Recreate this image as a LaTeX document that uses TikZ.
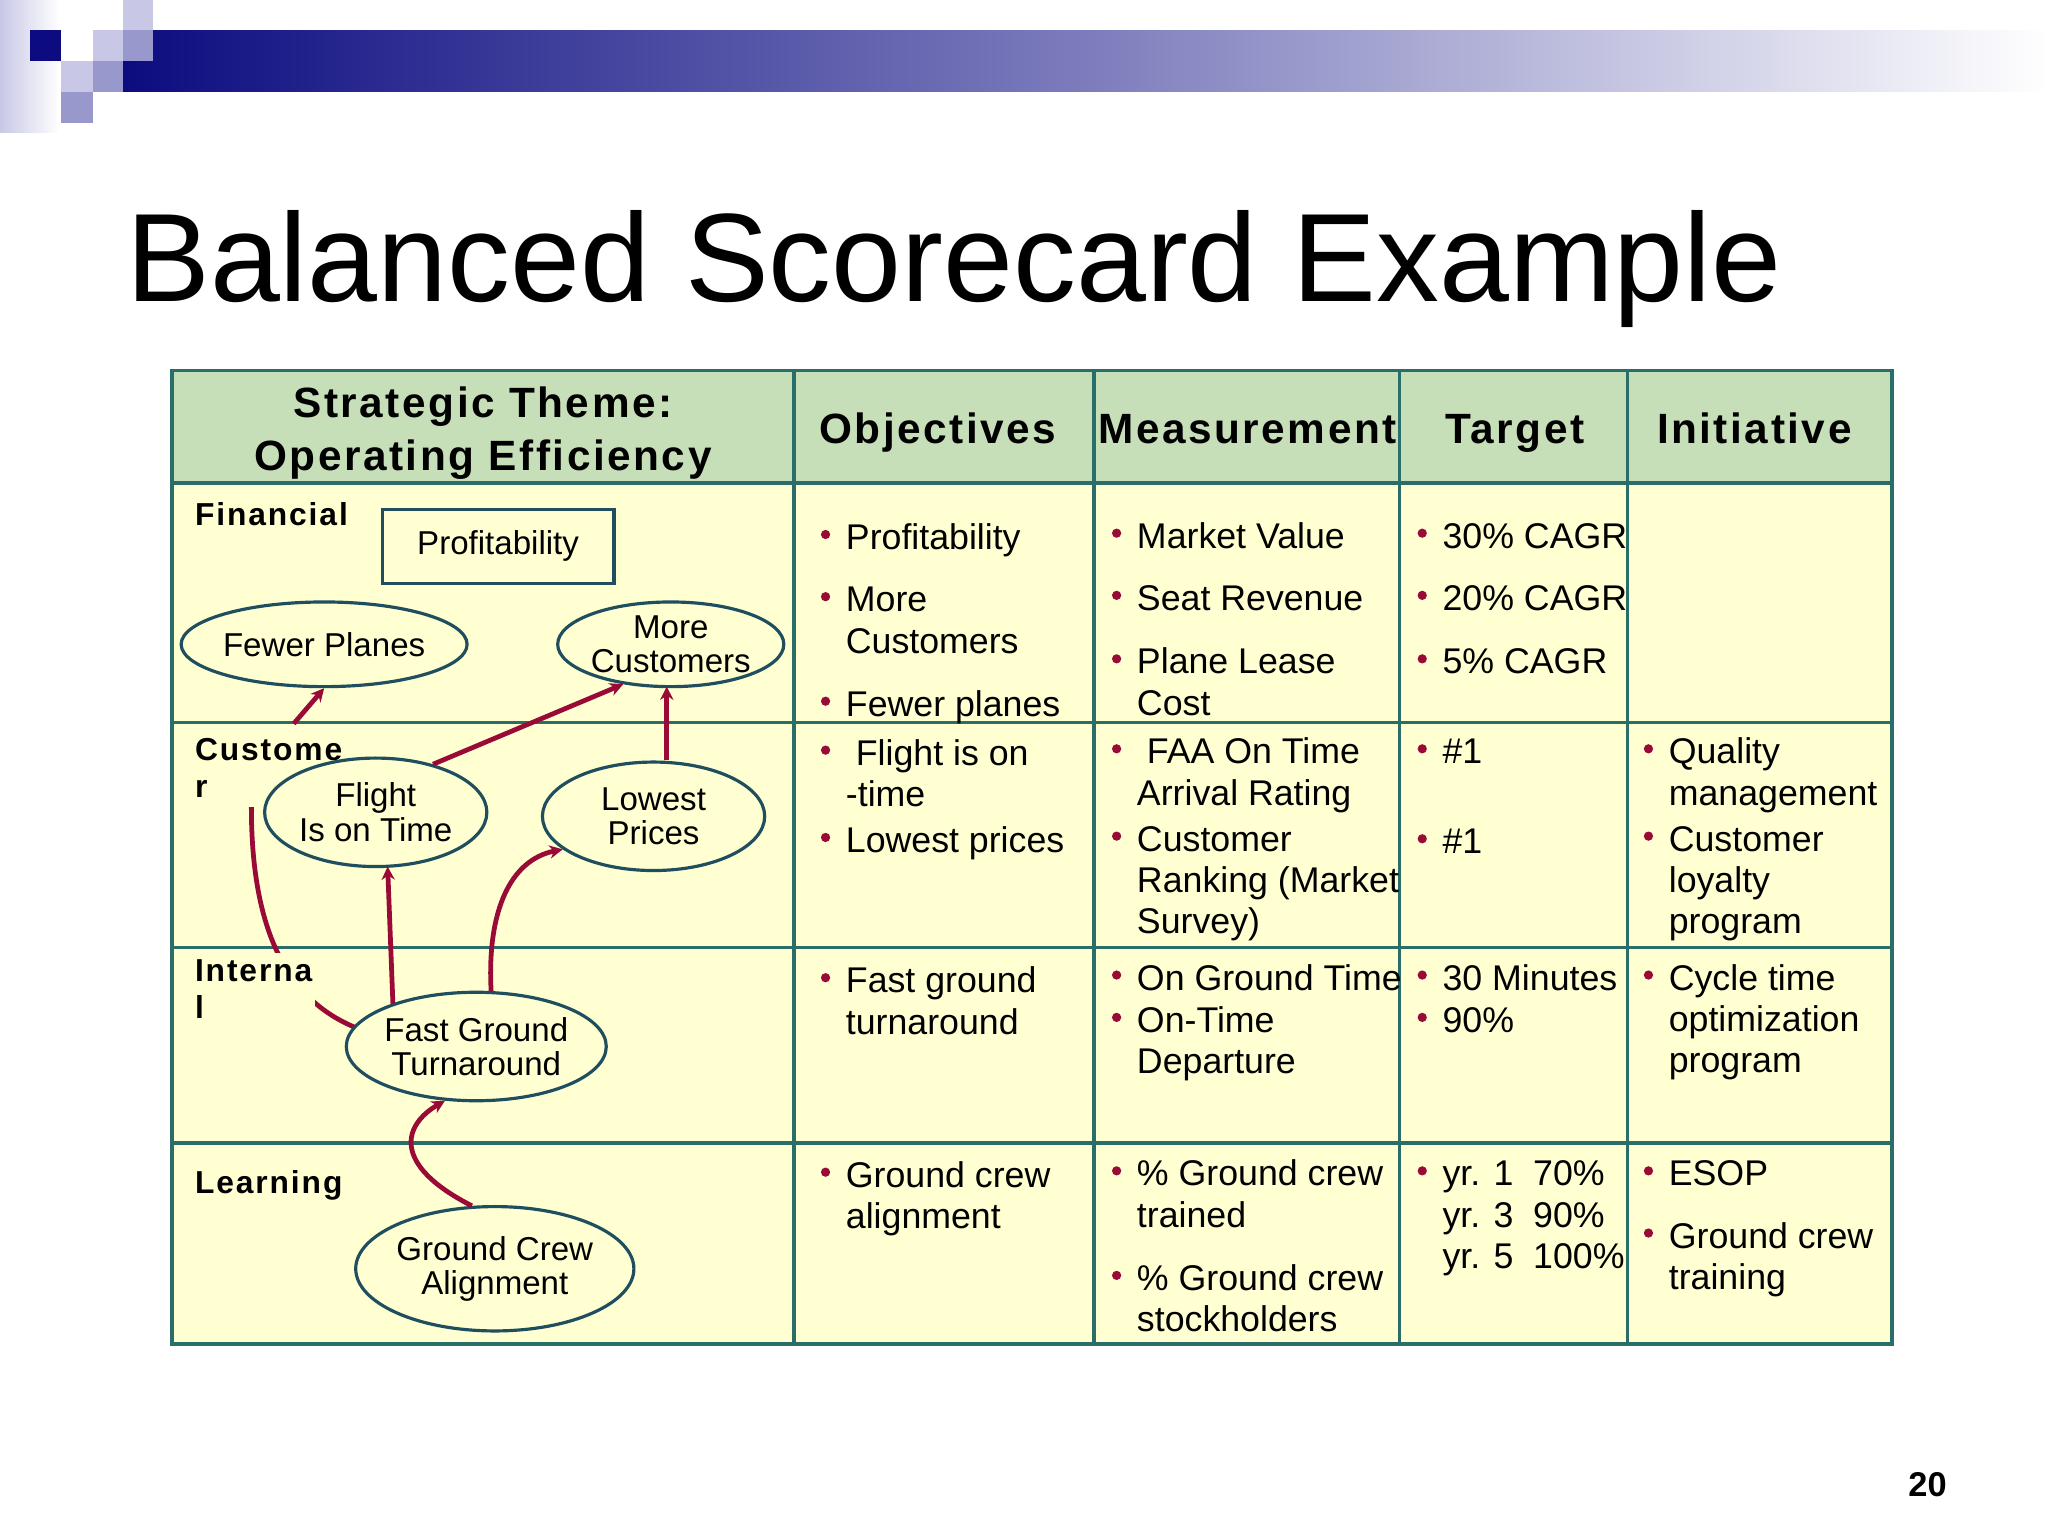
\documentclass[tikz,border=0pt]{standalone}
\usepackage{fontspec}
\setmainfont{Liberation Sans}
\usetikzlibrary{shapes.geometric,arrows.meta}
\definecolor{navy}{HTML}{0C0C80}
\definecolor{lav}{HTML}{C8C8E6}
\definecolor{lavm}{HTML}{9898CC}
\definecolor{hdr}{HTML}{C6DFB8}
\definecolor{body}{HTML}{FFFFD2}
\definecolor{grid}{HTML}{2A6E6A}
\definecolor{ell}{HTML}{1F4E5F}
\definecolor{arr}{HTML}{9A0A36}
\tikzset{
  x=0.5pt,y=-0.5pt,
  txt/.style={anchor=north west,inner sep=0pt,align=left,font=\fontsize{13.5}{15.6}\selectfont},
  hd/.style={anchor=base,inner sep=0pt,align=center,font=\fontsize{16}{20}\selectfont\bfseries\addfontfeatures{LetterSpace=6}},
  rl/.style={anchor=north west,inner sep=1pt,align=left,fill=body,font=\fontsize{12}{14}\selectfont\bfseries\addfontfeatures{LetterSpace=6}},
  el/.style={ellipse,draw=ell,line width=1.2pt,fill=body,inner sep=0pt,align=center,font=\fontsize{12.5}{13}\selectfont},
  ar/.style={draw=arr,line width=1.8pt,-{Stealth[length=5pt,width=5pt]}},
  ln/.style={draw=arr,line width=1.8pt}
}
\newcommand{\bul}[4]{\fill[arr] (#1-15,#2-11) circle (3.5);\node[txt] (#4) at (#1,#2-21.8) {\strut#3};}
\begin{document}
\begin{tikzpicture}
\useasboundingbox (0,0) rectangle (1548,1161);
\fill[white] (0,0) rectangle (1548,1161);
% banner
\shade[left color=lav,right color=white] (0,0) rectangle (45,100);
\shade[left color=navy,right color=white,middle color=lavm!80!navy] (93,23) rectangle (1548,69.5);
\fill[navy] (23,23) rectangle (46,46);
\fill[lav] (93,0) rectangle (116,23);
\fill[lav] (70,23) rectangle (93,46);
\fill[lavm] (93,23) rectangle (116,46);
\fill[lav] (46,46) rectangle (70,69.5);
\fill[lavm] (70,46) rectangle (93,69.5);
\fill[lavm] (46,69.5) rectangle (70,93);
\node[anchor=base west,inner sep=0pt,font=\fontsize{47.5}{55}\selectfont] (title) at (95,228) {Balanced Scorecard Example};
% table
\fill[hdr] (130,280) rectangle (1430,365);
\fill[body] (130,365) rectangle (1430,1016);
\begin{scope}[draw=grid,line width=1.3pt]
\draw (130,280) rectangle (1430,1016);
\foreach \y in {365,546,716,864} \draw (130,\y) -- (1430,\y);
\foreach \x in {600,827,1058,1230} \draw (\x,280) -- (\x,1016);
\end{scope}
\node[hd,anchor=north] (h1) at (365,287) {\strut Strategic Theme:\\Operating Efficiency};
\node[hd] (h2) at (709,335) {Objectives};
\node[hd] (h3) at (943,335) {Measurement};
\node[hd] (h4) at (1145,335) {Target};
\node[hd] (h5) at (1326,335) {Initiative};
% map arrows
\draw[ln] (278,780) .. controls (215,760) and (190,700) .. (190,610);
% row labels
\node[rl] (r1) at (145,375) {\strut Financial};
\node[rl] (r2) at (145,553) {\strut Custome\\r};
\node[rl] (r3) at (145,720) {\strut Interna\\l};
\node[rl] (r4) at (145,880) {\strut Learning};
% map nodes
\node[draw=ell,line width=1.3pt,fill=body,minimum width=87.5pt,minimum height=28pt,font=\fontsize{12.5}{13}\selectfont] (prof) at (376.5,413) {Profitability};
\node[el,minimum width=84pt,minimum height=32pt] (fp) at (245,487) {Fewer Planes};
\node[el,minimum width=84pt,minimum height=32pt] (mc) at (507,487) {More\\Customers};
\node[el,minimum width=84pt,minimum height=41pt] (fl) at (284,614) {Flight\\Is on Time};
\node[el,minimum width=84pt,minimum height=41pt] (lp) at (494,617) {Lowest\\Prices};
\node[el,minimum width=84pt,minimum height=41pt] (fg) at (360,791) {Fast Ground\\Turnaround};
\node[el,minimum width=99pt,minimum height=47pt] (gc) at (374,959) {Ground Crew\\Alignment};
\coordinate (c1) at (222,547);
\coordinate (c2) at (297,759);
\coordinate (c3) at (293,655);
\draw[ar] (c1) -- (fp.south);
\draw[ar] (fl.40) -- (mc.220);
\draw[ar] (lp.north -| 504,0) -- (504,519);
\draw[ar] (c2) -- (c3);
\draw[ar] (fg.75) .. controls (368,690) and (385,650) .. (lp.200);
\draw[ar] (gc.110) .. controls (295,880) and (305,850) .. (fg.240);
% objectives
\bul{639}{415}{Profitability}{o1}
\bul{639}{462}{More\\Customers}{o2}
\bul{639}{541}{Fewer planes}{o3}
\bul{639}{578}{\ Flight is on\\-time}{o4}
\bul{639}{644}{Lowest prices}{o5}
\bul{639}{750}{Fast ground\\turnaround}{o6}
\bul{639}{897}{Ground crew\\alignment}{o7}
% measurement
\bul{859}{414}{Market Value}{m1}
\bul{859}{461}{Seat Revenue}{m2}
\bul{859}{509}{Plane Lease\\Cost}{m3}
\bul{859}{577}{\ FAA On Time\\Arrival Rating}{m4}
\bul{859}{643}{Customer\\Ranking (Market\\Survey)}{m5}
\bul{859}{748}{On Ground Time}{m6}
\bul{859}{780}{On-Time\\Departure}{m7}
\bul{859}{896}{\% Ground crew\\trained}{m8}
\bul{859}{975}{\% Ground crew\\stockholders}{m9}
% target
\bul{1090}{414}{30\% CAGR}{t1}
\bul{1090}{461}{20\% CAGR}{t2}
\bul{1090}{509}{5\% CAGR}{t3}
\bul{1090}{577}{\#1}{t4}
\bul{1090}{645}{\#1}{t5}
\bul{1090}{748}{30 Minutes}{t6}
\bul{1090}{780}{90\%}{t7}
\bul{1090}{896}{yr. 1\ \ 70\%\\yr. 3\ \ 90\%\\yr. 5\ \ 100\%}{t8}
% initiative
\bul{1261}{577}{Quality\\management}{i1}
\bul{1261}{643}{Customer\\loyalty\\program}{i2}
\bul{1261}{748}{Cycle time\\optimization\\program}{i3}
\bul{1261}{896}{ESOP}{i4}
\bul{1261}{943}{Ground crew\\training}{i5}
\node[anchor=base,inner sep=0pt,font=\fontsize{13}{15}\selectfont\bfseries] (pg) at (1457,1131) {20};
\end{tikzpicture}
\end{document}
